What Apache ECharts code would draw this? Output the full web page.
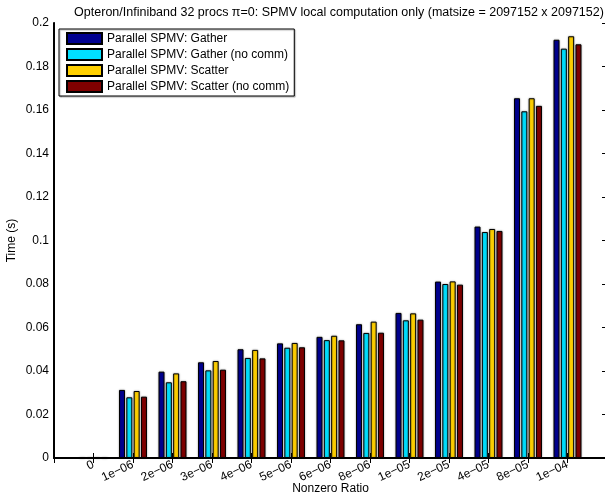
<!DOCTYPE html>
<html>
<head>
<meta charset="utf-8">
<script src="https://cdn.jsdelivr.net/npm/echarts@6/dist/echarts.min.js"></script>
<style>
  html, body { margin: 0; padding: 0; background: #fff; }
  #chart { width: 605px; height: 495px; }
</style>
</head>
<body>
<div id="chart"></div>
<script>
// Nonzero ratio of the sparse matrix, one group of bars per ratio
const categories = ['0', '1e\u221206', '2e\u221206', '3e\u221206', '4e\u221206', '5e\u221206', '6e\u221206',
  '8e\u221206', '1e\u221205', '2e\u221205', '4e\u221205', '8e\u221205', '1e\u221204'];

// Time in seconds for each SPMV variant
const gather        = [0.0001, 0.0313, 0.0397, 0.0440, 0.0500, 0.0527, 0.0557, 0.0615, 0.0667, 0.0811, 0.1064, 0.1654, 0.1923];
const gatherNoComm  = [0.0001, 0.0279, 0.0348, 0.0403, 0.0460, 0.0507, 0.0542, 0.0575, 0.0633, 0.0800, 0.1039, 0.1594, 0.1882];
const scatter       = [0.0001, 0.0308, 0.0389, 0.0446, 0.0497, 0.0529, 0.0562, 0.0627, 0.0665, 0.0812, 0.1053, 0.1654, 0.1939];
const scatterNoComm = [0.0001, 0.0282, 0.0353, 0.0406, 0.0458, 0.0509, 0.0541, 0.0576, 0.0636, 0.0797, 0.1044, 0.1619, 0.1902];

const seriesNames = [
  'Parallel SPMV: Gather',
  'Parallel SPMV: Gather (no comm)',
  'Parallel SPMV: Scatter',
  'Parallel SPMV: Scatter (no comm)'
];
const seriesValues = [gather, gatherNoComm, scatter, scatterNoComm];
const colors = ['#000090', '#00E0FF', '#FFD000', '#800000'];

const FONT = '"Liberation Sans", Arial, Helvetica, sans-serif';

// Plot box size in px (grid)
const GRID = { left: 54, right: -2, top: 23, bottom: 37 };
const PLOT_W = 605 - GRID.left - GRID.right;
const PLOT_H = 495 - GRID.top - GRID.bottom;

// Bars sit at x = 1..13 on an axis running from 0 to 14
const toPoints = vals => vals.map((v, i) => [i + 1, v]);

const chart = echarts.init(document.getElementById('chart'), null, { renderer: 'canvas' });

const series = seriesValues.map((vals, k) => ({
  name: seriesNames[k],
  type: 'bar',
  xAxisIndex: 0,
  yAxisIndex: 0,
  data: toPoints(vals),
  barWidth: 6,
  barGap: '22%',
  itemStyle: {
    color: colors[k],
    borderColor: '#000',
    borderWidth: 1,
    shadowColor: 'rgba(0,0,0,0.35)',
    shadowBlur: 2
  },
  emphasis: { disabled: true },
  animation: false
}));

const tickLabel = v => {
  const i = Math.round(v) - 1;
  return (i >= 0 && i < categories.length) ? categories[i] : '';
};

const X_SCALE = { type: 'value', min: 0, max: 14, interval: 1 };
const Y_SCALE = { type: 'value', min: 0, max: 0.2, interval: 0.02 };

// Tick-only axis placed on the opposite side of the box, so its outward
// ticks point into the plot area
const tickOnly = (scale, position, offset) => Object.assign({}, scale, {
  position,
  offset,
  axisLine: { show: false },
  axisTick: { show: true, inside: false, length: 5, lineStyle: { color: '#000', width: 1 } },
  axisLabel: { show: false },
  splitLine: { show: false }
});

chart.setOption({
  animation: false,
  backgroundColor: '#fff',
  color: colors,
  title: {
    text: 'Opteron/Infiniband 32 procs \u03c0=0: SPMV local computation only (matsize = 2097152 x 2097152)',
    left: 334,
    top: 1,
    textAlign: 'center',
    textStyle: { fontFamily: FONT, fontSize: 12.5, fontWeight: 'normal', color: '#000' }
  },
  legend: {
    orient: 'vertical',
    left: 59,
    top: 29,
    padding: [3, 5, 3, 7],
    itemWidth: 35,
    itemHeight: 11,
    itemGap: 3,
    borderColor: '#000',
    borderWidth: 1,
    backgroundColor: '#fff',
    shadowColor: 'rgba(0,0,0,0.3)',
    shadowOffsetX: 1,
    shadowOffsetY: 1,
    shadowBlur: 1,
    icon: 'rect',
    selectedMode: false,
    textStyle: { fontFamily: FONT, fontSize: 12, color: '#000' },
    data: seriesNames
  },
  grid: Object.assign({ containLabel: false, outerBoundsMode: 'none' }, GRID),
  xAxis: [
    Object.assign({}, X_SCALE, {
      position: 'bottom',
      name: 'Nonzero Ratio',
      nameLocation: 'middle',
      nameGap: 25,
      nameMoveOverlap: false,
      nameTextStyle: { fontFamily: FONT, fontSize: 12, color: '#000' },
      axisLine: { show: true, lineStyle: { color: '#000', width: 2 } },
      axisTick: { show: false },
      axisLabel: {
        rotate: 25,
        margin: 6,
        formatter: tickLabel,
        fontFamily: FONT, fontSize: 12, color: '#000'
      },
      splitLine: { show: false }
    }),
    Object.assign({}, X_SCALE, {
      position: 'top',
      axisLine: { show: true, lineStyle: { color: '#000', width: 1 } },
      axisTick: { show: false },
      axisLabel: { show: false },
      splitLine: { show: false }
    }),
    tickOnly(X_SCALE, 'top', -PLOT_H),
    tickOnly(X_SCALE, 'bottom', -PLOT_H)
  ],
  yAxis: [
    Object.assign({}, Y_SCALE, {
      position: 'left',
      name: 'Time (s)',
      nameLocation: 'middle',
      nameGap: 36,
      nameMoveOverlap: false,
      nameTextStyle: { fontFamily: FONT, fontSize: 12, color: '#000' },
      axisLine: { show: true, lineStyle: { color: '#000', width: 2 } },
      axisTick: { show: false },
      axisLabel: {
        margin: 5,
        formatter: v => String(+v.toFixed(2)),
        fontFamily: FONT, fontSize: 12, color: '#000'
      },
      splitLine: { show: false }
    }),
    Object.assign({}, Y_SCALE, {
      position: 'right',
      axisLine: { show: true, lineStyle: { color: '#000', width: 1 } },
      axisTick: { show: false },
      axisLabel: { show: false },
      splitLine: { show: false }
    }),
    tickOnly(Y_SCALE, 'right', -PLOT_W),
    tickOnly(Y_SCALE, 'left', -PLOT_W)
  ],
  series: series
});
</script>
</body>
</html>
